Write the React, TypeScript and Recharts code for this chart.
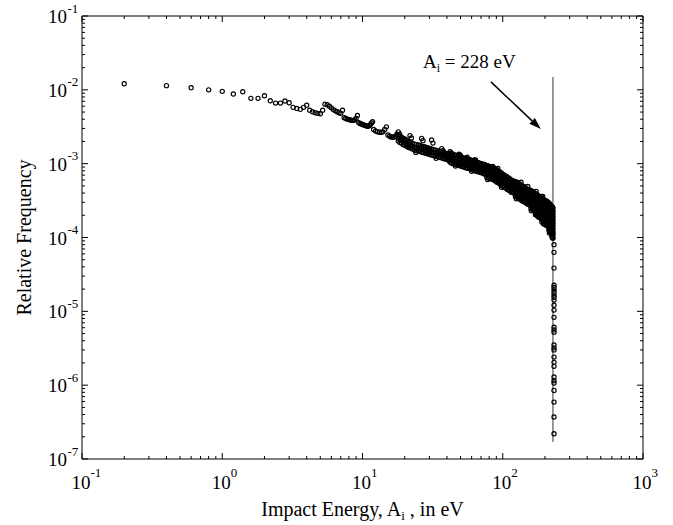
import React from 'react';
import { ScatterChart, Scatter, XAxis, YAxis, ReferenceLine, Label } from 'recharts';

// impact energy (eV) and relative frequency of the resolved low-energy points
const lowEnergy: [number, number][] = [
  [0.2, 1.21e-2], [0.4, 1.14e-2], [0.6, 1.07e-2], [0.8, 1.0e-2], [1.0, 9.55e-3],
  [1.2, 8.77e-3], [1.4, 9.42e-3], [1.6, 7.67e-3], [1.8, 7.67e-3], [2.0, 8.32e-3],
  [2.2, 7.11e-3], [2.4, 6.62e-3], [2.6, 6.62e-3], [2.8, 7.05e-3], [3.0, 6.69e-3],
  [3.2, 5.79e-3], [3.4, 5.6e-3], [3.6, 5.44e-3], [3.8, 5.8e-3], [4.0, 6.2e-3],
  [4.2, 5.3e-3], [4.4, 5.05e-3], [4.6, 4.9e-3], [4.8, 4.8e-3], [5.0, 4.75e-3],
  [5.2, 5.3e-3], [5.4, 6.4e-3], [5.6, 6.3e-3], [5.8, 6.0e-3], [6.0, 5.7e-3],
  [6.2, 5.4e-3], [6.4, 5.2e-3], [6.6, 5.05e-3], [6.8, 4.9e-3], [7.0, 4.8e-3],
  [7.2, 5.3e-3], [7.4, 4.2e-3], [7.6, 4.1e-3], [7.8, 4.0e-3], [8.0, 3.95e-3],
  [8.2, 3.9e-3], [8.4, 3.85e-3], [8.6, 3.85e-3], [8.8, 3.9e-3], [9.0, 4.1e-3],
  [9.2, 4.5e-3], [9.4, 3.6e-3], [9.6, 3.5e-3], [9.8, 3.45e-3], [10.0, 3.4e-3],
  [10.2, 3.35e-3], [10.4, 3.3e-3], [10.6, 3.25e-3], [10.8, 3.2e-3], [11.0, 3.2e-3],
  [11.2, 3.3e-3], [11.4, 3.4e-3], [11.6, 3.55e-3], [11.8, 3.7e-3], [12.0, 2.9e-3],
  [12.4, 2.78e-3], [12.8, 2.7e-3], [13.2, 2.66e-3], [13.6, 2.66e-3], [14.0, 2.7e-3],
  [14.4, 2.9e-3], [14.8, 3.15e-3], [15.2, 2.45e-3], [15.6, 2.35e-3], [16.0, 2.3e-3],
  [16.4, 2.28e-3], [16.8, 2.3e-3], [17.2, 2.35e-3], [17.6, 2.5e-3],
];

// dense part: each energy with the spread of frequencies stacked there
const bandColumns: [number, number[]][] = [
  [18, [2.44e-3, 2.22e-3, 2.02e-3]],
  [18.5, [2.33e-3, 2.12e-3, 1.93e-3]],
  [19, [2.29e-3, 2.09e-3, 1.9e-3]],
  [19.5, [2.19e-3, 1.99e-3, 1.81e-3]],
  [20, [2.16e-3, 1.96e-3, 1.79e-3]],
  [20.5, [2.09e-3, 1.9e-3, 1.73e-3]],
  [21, [2.02e-3, 1.84e-3, 1.68e-3]],
  [21.5, [1.99e-3, 1.81e-3, 1.65e-3]],
  [22, [1.96e-3, 1.79e-3, 1.63e-3]],
  [22.7, [1.9e-3, 1.73e-3, 1.58e-3]],
  [23.5, [1.84e-3, 1.68e-3, 1.53e-3]],
  [24.2, [1.81e-3, 1.65e-3, 1.5e-3]],
  [25, [1.79e-3, 1.63e-3, 1.48e-3]],
  [25.7, [1.76e-3, 1.6e-3, 1.46e-3]],
  [26.5, [1.73e-3, 1.58e-3, 1.44e-3]],
  [27.2, [1.7e-3, 1.55e-3, 1.41e-3]],
  [28, [1.68e-3, 1.53e-3, 1.39e-3]],
  [28.7, [1.65e-3, 1.5e-3, 1.37e-3]],
  [29.5, [1.63e-3, 1.48e-3, 1.35e-3]],
  [30.2, [1.6e-3, 1.46e-3, 1.33e-3]],
  [31, [1.58e-3, 1.44e-3, 1.31e-3]],
  [32, [1.55e-3, 1.41e-3, 1.29e-3]],
  [33, [1.53e-3, 1.39e-3, 1.27e-3]],
  [34, [1.5e-3, 1.37e-3, 1.25e-3]],
  [35, [1.48e-3, 1.35e-3, 1.23e-3]],
  [36, [1.46e-3, 1.33e-3, 1.21e-3]],
  [37, [1.44e-3, 1.31e-3, 1.19e-3]],
  [38, [1.41e-3, 1.29e-3, 1.17e-3]],
  [39, [1.39e-3, 1.27e-3, 1.16e-3]],
  [40, [1.37e-3, 1.25e-3, 1.14e-3]],
  [41, [1.35e-3, 1.23e-3, 1.12e-3]],
  [42, [1.35e-3, 1.23e-3, 1.12e-3, 1.05e-3]],
  [43, [1.35e-3, 1.23e-3, 1.12e-3, 1.02e-3]],
  [44.2, [1.33e-3, 1.21e-3, 1.1e-3, 1.0e-3]],
  [45.5, [1.31e-3, 1.19e-3, 1.09e-3, 9.9e-4]],
  [46.7, [1.29e-3, 1.17e-3, 1.07e-3, 9.7e-4]],
  [48, [1.27e-3, 1.16e-3, 1.05e-3, 9.6e-4]],
  [49.2, [1.25e-3, 1.14e-3, 1.03e-3, 9.4e-4]],
  [50.5, [1.23e-3, 1.12e-3, 1.02e-3, 9.3e-4]],
  [51.7, [1.21e-3, 1.1e-3, 1.0e-3, 9.1e-4]],
  [53, [1.19e-3, 1.09e-3, 9.9e-4, 9.0e-4]],
  [54.5, [1.17e-3, 1.07e-3, 9.7e-4, 8.8e-4]],
  [56, [1.16e-3, 1.05e-3, 9.6e-4, 8.7e-4]],
  [57.5, [1.14e-3, 1.03e-3, 9.4e-4, 8.6e-4]],
  [59, [1.12e-3, 1.02e-3, 9.3e-4, 8.5e-4]],
  [60.5, [1.1e-3, 1.0e-3, 9.1e-4, 8.3e-4]],
  [62, [1.09e-3, 9.9e-4, 9.0e-4, 8.2e-4]],
  [63.5, [1.07e-3, 9.7e-4, 8.8e-4, 8.0e-4]],
  [65, [1.05e-3, 9.6e-4, 8.7e-4, 7.9e-4]],
  [66.5, [1.03e-3, 9.4e-4, 8.6e-4, 7.8e-4]],
  [68, [1.02e-3, 9.3e-4, 8.5e-4, 7.7e-4]],
  [69.7, [1.0e-3, 9.1e-4, 8.3e-4, 7.6e-4]],
  [71.5, [9.9e-4, 9.0e-4, 8.2e-4, 7.5e-4]],
  [73.2, [9.7e-4, 8.8e-4, 8.0e-4, 7.3e-4]],
  [75, [9.6e-4, 8.7e-4, 7.9e-4, 7.2e-4]],
  [77, [9.4e-4, 8.6e-4, 7.8e-4, 7.1e-4, 6.5e-4]],
  [79, [9.3e-4, 8.5e-4, 7.7e-4, 7.0e-4, 6.4e-4]],
  [81, [9.1e-4, 8.3e-4, 7.6e-4, 6.9e-4, 6.3e-4]],
  [83, [9.0e-4, 8.2e-4, 7.5e-4, 6.8e-4, 6.2e-4]],
  [85, [8.8e-4, 8.0e-4, 7.3e-4, 6.7e-4, 6.1e-4]],
  [87, [8.7e-4, 7.9e-4, 7.2e-4, 6.6e-4, 6.0e-4]],
  [89, [8.45e-4, 7.7e-4, 7.0e-4, 6.4e-4, 5.8e-4]],
  [91, [8.2e-4, 7.5e-4, 6.8e-4, 6.2e-4, 5.6e-4]],
  [93.2, [7.9e-4, 7.2e-4, 6.6e-4, 6.0e-4, 5.5e-4]],
  [95.5, [7.7e-4, 7.0e-4, 6.4e-4, 5.8e-4, 5.3e-4]],
  [97.7, [7.5e-4, 6.8e-4, 6.2e-4, 5.6e-4, 5.1e-4]],
  [100, [7.2e-4, 6.6e-4, 6.0e-4, 5.5e-4, 5.0e-4]],
  [102.5, [7.0e-4, 6.4e-4, 5.8e-4, 5.3e-4, 4.8e-4]],
  [105, [6.8e-4, 6.2e-4, 5.6e-4, 5.1e-4, 4.7e-4]],
  [107.5, [6.6e-4, 6.0e-4, 5.5e-4, 5.0e-4, 4.5e-4]],
  [110, [6.4e-4, 5.8e-4, 5.3e-4, 4.8e-4, 4.4e-4]],
  [112.5, [6.2e-4, 5.6e-4, 5.1e-4, 4.7e-4, 4.25e-4]],
  [115, [6.0e-4, 5.5e-4, 5.0e-4, 4.5e-4, 4.1e-4]],
  [117.5, [5.9e-4, 5.4e-4, 4.9e-4, 4.5e-4, 4.1e-4]],
  [120, [5.8e-4, 5.3e-4, 4.8e-4, 4.4e-4, 4.0e-4]],
  [123, [5.7e-4, 5.2e-4, 4.75e-4, 4.3e-4, 3.93e-4, 3.58e-4]],
  [126, [5.6e-4, 5.1e-4, 4.7e-4, 4.25e-4, 3.87e-4, 3.53e-4]],
  [129, [5.46e-4, 4.97e-4, 4.53e-4, 4.12e-4, 3.76e-4, 3.42e-4]],
  [132, [5.3e-4, 4.8e-4, 4.4e-4, 4.0e-4, 3.64e-4, 3.32e-4]],
  [135, [5.13e-4, 4.67e-4, 4.25e-4, 3.87e-4, 3.53e-4, 3.21e-4]],
  [138, [5.0e-4, 4.5e-4, 4.1e-4, 3.76e-4, 3.42e-4, 3.12e-4]],
  [141, [4.9e-4, 4.46e-4, 4.06e-4, 3.7e-4, 3.37e-4, 3.07e-4]],
  [144, [4.8e-4, 4.4e-4, 4.0e-4, 3.64e-4, 3.32e-4, 3.02e-4]],
  [147, [4.67e-4, 4.25e-4, 3.87e-4, 3.53e-4, 3.21e-4, 2.93e-4]],
  [150, [4.5e-4, 4.1e-4, 3.76e-4, 3.42e-4, 3.12e-4, 2.84e-4]],
  [153, [4.46e-4, 4.06e-4, 3.7e-4, 3.37e-4, 3.07e-4, 2.8e-4]],
  [156, [4.4e-4, 4.0e-4, 3.64e-4, 3.32e-4, 3.02e-4, 2.75e-4]],
  [159, [4.3e-4, 3.93e-4, 3.58e-4, 3.26e-4, 2.97e-4, 2.71e-4, 2.46e-4]],
  [162, [4.25e-4, 3.87e-4, 3.53e-4, 3.21e-4, 2.93e-4, 2.67e-4, 2.43e-4]],
  [165, [4.12e-4, 3.76e-4, 3.42e-4, 3.12e-4, 2.84e-4, 2.58e-4, 2.35e-4]],
  [168, [4.0e-4, 3.64e-4, 3.32e-4, 3.02e-4, 2.75e-4, 2.5e-4, 2.28e-4]],
  [171, [3.93e-4, 3.58e-4, 3.26e-4, 2.97e-4, 2.71e-4, 2.46e-4, 2.24e-4, 2.04e-4]],
  [174, [3.87e-4, 3.53e-4, 3.21e-4, 2.93e-4, 2.67e-4, 2.43e-4, 2.21e-4, 2.01e-4]],
  [177, [3.76e-4, 3.42e-4, 3.12e-4, 2.84e-4, 2.58e-4, 2.35e-4, 2.14e-4, 1.95e-4]],
  [180, [3.64e-4, 3.32e-4, 3.02e-4, 2.75e-4, 2.5e-4, 2.28e-4, 2.08e-4, 1.89e-4]],
  [183, [3.58e-4, 3.26e-4, 2.97e-4, 2.71e-4, 2.46e-4, 2.24e-4, 2.04e-4, 1.86e-4]],
  [186, [3.53e-4, 3.21e-4, 2.93e-4, 2.67e-4, 2.43e-4, 2.21e-4, 2.01e-4, 1.83e-4]],
  [189, [3.42e-4, 3.12e-4, 2.84e-4, 2.58e-4, 2.35e-4, 2.14e-4, 1.95e-4, 1.78e-4]],
  [192, [3.32e-4, 3.02e-4, 2.75e-4, 2.5e-4, 2.28e-4, 2.08e-4, 1.89e-4, 1.72e-4]],
  [195, [3.26e-4, 2.97e-4, 2.71e-4, 2.46e-4, 2.24e-4, 2.04e-4, 1.86e-4, 1.69e-4, 1.54e-4]],
  [198, [3.21e-4, 2.93e-4, 2.67e-4, 2.43e-4, 2.21e-4, 2.01e-4, 1.83e-4, 1.67e-4, 1.52e-4]],
  [201, [3.17e-4, 2.88e-4, 2.62e-4, 2.39e-4, 2.18e-4, 1.98e-4, 1.8e-4, 1.64e-4, 1.5e-4]],
  [204, [3.12e-4, 2.84e-4, 2.58e-4, 2.35e-4, 2.14e-4, 1.95e-4, 1.78e-4, 1.62e-4, 1.47e-4]],
  [207, [3.07e-4, 2.8e-4, 2.54e-4, 2.32e-4, 2.11e-4, 1.92e-4, 1.75e-4, 1.59e-4, 1.45e-4]],
  [210, [3.02e-4, 2.75e-4, 2.5e-4, 2.28e-4, 2.08e-4, 1.89e-4, 1.72e-4, 1.57e-4, 1.43e-4]],
  [213, [2.93e-4, 2.67e-4, 2.43e-4, 2.21e-4, 2.01e-4, 1.83e-4, 1.67e-4, 1.52e-4, 1.38e-4, 1.26e-4]],
  [216, [2.84e-4, 2.58e-4, 2.35e-4, 2.14e-4, 1.95e-4, 1.78e-4, 1.62e-4, 1.47e-4, 1.34e-4, 1.22e-4]],
  [219, [2.75e-4, 2.5e-4, 2.28e-4, 2.08e-4, 1.89e-4, 1.72e-4, 1.57e-4, 1.43e-4, 1.3e-4, 1.18e-4]],
  [222, [2.67e-4, 2.43e-4, 2.21e-4, 2.01e-4, 1.83e-4, 1.67e-4, 1.52e-4, 1.38e-4, 1.26e-4, 1.15e-4]],
  [224, [2.62e-4, 2.39e-4, 2.18e-4, 1.98e-4, 1.8e-4, 1.64e-4, 1.5e-4, 1.36e-4, 1.24e-4, 1.13e-4, 1.02e-4]],
  [226, [2.58e-4, 2.35e-4, 2.14e-4, 1.95e-4, 1.78e-4, 1.62e-4, 1.47e-4, 1.34e-4, 1.22e-4, 1.11e-4, 1.01e-4]],
  [227, [2.54e-4, 2.32e-4, 2.11e-4, 1.92e-4, 1.75e-4, 1.59e-4, 1.45e-4, 1.32e-4, 1.2e-4, 1.09e-4, 9.9e-5]],
  [228, [2.5e-4, 2.28e-4, 2.08e-4, 1.89e-4, 1.72e-4, 1.57e-4, 1.43e-4, 1.3e-4, 1.18e-4, 1.08e-4, 9.8e-5]],
];

// isolated points sitting above the band (the "teeth")
const bandPeaks: [number, number][] = [
  [18.0, 2.7e-3], [21.8, 2.4e-3], [26.4, 2.2e-3], [31.1, 2.09e-3], [36.7, 1.6e-3],
  [42.1, 1.45e-3], [48.8, 1.34e-3], [54.7, 1.16e-3], [62.7, 1.12e-3], [72.6, 8.6e-4],
  [83.3, 8.2e-4], [90.5, 7.0e-4], [112.6, 5.7e-4], [132.8, 5.1e-4], [148.3, 3.95e-4],
  [170, 3.6e-4], [190, 3.6e-4], [205.7, 2.7e-4],
  [18.4, 2.5e-3], [22.3, 2.23e-3], [27, 2.05e-3], [31.8, 1.9e-3], [37.5, 1.5e-3],
  [43, 1.4e-3], [49.8, 1.3e-3], [55.8, 1.22e-3], [64, 1.12e-3], [74, 9.8e-4],
  [85, 9.2e-4], [92.3, 8.6e-4], [135, 5.6e-4], [151, 4.9e-4], [173, 4.2e-4], [193, 3.6e-4],
];

// scattered points just under the band
const bandLows: [number, number][] = [
  [24, 1.42e-3], [33.5, 1.18e-3], [46, 9.3e-4], [60, 7.9e-4], [78, 6.1e-4],
  [98, 4.8e-4], [125, 3.35e-4], [160, 2.3e-4], [190, 1.62e-4], [215, 1.15e-4],
];

// points falling down the cutoff
const cutoffEnergy = 232;
const cutoffFreq = [
  8.0e-5, 6.3e-5, 3.85e-5, 2.26e-5, 2.1e-5, 1.94e-5, 1.8e-5, 1.66e-5, 1.55e-5, 1.42e-5,
  1.21e-5, 1.04e-5, 8.3e-6, 6.1e-6, 5.6e-6, 5.2e-6, 3.5e-6, 3.2e-6, 3.0e-6, 2.4e-6,
  2.04e-6, 1.8e-6, 1.29e-6, 1.15e-6, 1.07e-6, 8.5e-7, 5.9e-7, 3.7e-7, 2.2e-7,
];

const cutoffLine = { energy: 228, top: 1.49e-2, bottom: 1.7e-7 };
const arrowFrom = { x: 82.4, y: 1.28e-2 };
const arrowTo = { x: 187, y: 2.94e-3 };

const xDecades = [0.1, 1, 10, 100, 1000];
const yDecades = [1e-7, 1e-6, 1e-5, 1e-4, 1e-3, 1e-2, 1e-1];
const minorSteps = [2, 3, 4, 5, 6, 7, 8, 9];

const withMinor = (decades: number[]) =>
  decades.flatMap((d, i) => (i < decades.length - 1 ? [d, ...minorSteps.map((m) => m * d)] : [d]));

const xTicks = withMinor(xDecades);
const yTicks = withMinor(yDecades);

const MAJOR = 6;
const MINOR = 3;
const FONT = '"Liberation Serif", "Times New Roman", serif';

const decadeExp = (v: number) => Math.round(Math.log10(v));
const isDecade = (v: number) => Math.abs(Math.log10(v) - decadeExp(v)) < 1e-6;

type TickProps = { x?: number; y?: number; payload?: { value: number } };

function BottomTick({ x = 0, y = 0, payload }: TickProps) {
  const v = payload?.value ?? 1;
  const major = isDecade(v);
  return (
    <g>
      <line x1={x} x2={x} y1={y} y2={y - (major ? MAJOR : MINOR)} stroke="#000" />
      {major && (
        <>
          <text x={x - 1} y={y + 30} textAnchor="middle" fontSize={19} fill="#000">10</text>
          <text x={x + 8.5} y={y + 18} fontSize={13} fill="#000">{decadeExp(v)}</text>
        </>
      )}
    </g>
  );
}

function TopTick({ x = 0, y = 0, payload }: TickProps) {
  const major = isDecade(payload?.value ?? 1);
  return <line x1={x} x2={x} y1={y} y2={y + (major ? MAJOR : MINOR)} stroke="#000" />;
}

function LeftTick({ x = 0, y = 0, payload }: TickProps) {
  const v = payload?.value ?? 1;
  const major = isDecade(v);
  return (
    <g>
      <line x1={x} x2={x + (major ? MAJOR : MINOR)} y1={y} y2={y} stroke="#000" />
      {major && (
        <>
          <text x={x - 15} y={y + 7} textAnchor="end" fontSize={19} fill="#000">10</text>
          <text x={x - 14.5} y={y - 3.5} fontSize={13} fill="#000">{decadeExp(v)}</text>
        </>
      )}
    </g>
  );
}

function RightTick({ x = 0, y = 0, payload }: TickProps) {
  const major = isDecade(payload?.value ?? 1);
  return <line x1={x} x2={x - (major ? MAJOR : MINOR)} y1={y} y2={y} stroke="#000" />;
}

function Arrow(props: any) {
  const { x1, y1, x2, y2 } = props;
  const ang = Math.atan2(y2 - y1, x2 - x1);
  const len = 12;
  const half = 4;
  const bx = x2 - len * Math.cos(ang);
  const by = y2 - len * Math.sin(ang);
  const px = -Math.sin(ang) * half;
  const py = Math.cos(ang) * half;
  return (
    <g>
      <line x1={x1} y1={y1} x2={bx} y2={by} stroke="#000" strokeWidth={1.5} />
      <polygon points={`${x2},${y2} ${bx + px},${by + py} ${bx - px},${by - py}`} fill="#000" />
      <text x={x1 - 68} y={y1 - 14} fontSize={19} fill="#000">
        A<tspan fontSize={12} dy={4}>i</tspan>
        <tspan dy={-4}> = 228 eV</tspan>
      </text>
    </g>
  );
}

const dot = (p: any) => (
  <circle cx={p.cx} cy={p.cy} r={2.1} fill="none" stroke="#000" strokeWidth={1.15} />
);

export default function App() {
  const points = [
    ...lowEnergy.map(([x, y]) => ({ x, y })),
    ...bandColumns.flatMap(([x, ys]) => ys.map((y) => ({ x, y }))),
    ...bandPeaks.map(([x, y]) => ({ x, y })),
    ...bandLows.map(([x, y]) => ({ x, y })),
    ...cutoffFreq.map((y) => ({ x: cutoffEnergy, y })),
  ];

  return (
    <div style={{ width: 673, height: 525, fontFamily: FONT, background: '#fff' }}>
      <style>{'body { margin: 0; }'}</style>
      <ScatterChart width={673} height={525} margin={{ top: 0, right: 0, bottom: 0, left: 0 }}>
        <XAxis
          xAxisId="b"
          dataKey="x"
          type="number"
          scale="log"
          domain={[0.1, 1000]}
          allowDataOverflow
          ticks={xTicks}
          interval={0}
          height={66}
          tickSize={0}
          tickMargin={0}
          tickLine={false}
          axisLine={{ stroke: '#000' }}
          tick={(p: any) => <BottomTick {...p} />}
        >
          <Label
            content={({ viewBox }: any) => (
              <text x={viewBox.x + viewBox.width / 2} y={viewBox.y + 57} textAnchor="middle" fontSize={20} fill="#000">
                Impact Energy, A<tspan fontSize={13} dy={4}>i</tspan>
                <tspan dy={-4}> , in eV</tspan>
              </text>
            )}
          />
        </XAxis>
        <XAxis
          xAxisId="t"
          orientation="top"
          dataKey="x"
          type="number"
          scale="log"
          domain={[0.1, 1000]}
          allowDataOverflow
          ticks={xTicks}
          interval={0}
          height={16}
          tickSize={0}
          tickMargin={0}
          tickLine={false}
          axisLine={{ stroke: '#000' }}
          tick={(p: any) => <TopTick {...p} />}
        />
        <YAxis
          yAxisId="l"
          dataKey="y"
          type="number"
          scale="log"
          domain={[1e-7, 1e-1]}
          allowDataOverflow
          ticks={yTicks}
          interval={0}
          width={82}
          tickSize={0}
          tickMargin={0}
          tickLine={false}
          axisLine={{ stroke: '#000' }}
          tick={(p: any) => <LeftTick {...p} />}
        >
          <Label
            content={({ viewBox }: any) => {
              const cx = 31;
              const cy = viewBox.y + viewBox.height / 2;
              return (
                <text x={cx} y={cy} transform={`rotate(-90, ${cx}, ${cy})`} textAnchor="middle" fontSize={20} fill="#000">
                  Relative Frequency
                </text>
              );
            }}
          />
        </YAxis>
        <YAxis
          yAxisId="r"
          orientation="right"
          dataKey="y"
          type="number"
          scale="log"
          domain={[1e-7, 1e-1]}
          allowDataOverflow
          ticks={yTicks}
          interval={0}
          width={30}
          tickSize={0}
          tickMargin={0}
          tickLine={false}
          axisLine={{ stroke: '#000' }}
          tick={(p: any) => <RightTick {...p} />}
        />
        <ReferenceLine
          xAxisId="b"
          yAxisId="l"
          segment={[
            { x: cutoffLine.energy, y: cutoffLine.top },
            { x: cutoffLine.energy, y: cutoffLine.bottom },
          ]}
          stroke="#000"
          strokeWidth={0.8}
        />
        <Scatter
          xAxisId="b"
          yAxisId="l"
          data={points}
          shape={dot}
          isAnimationActive={false}
        />
        <ReferenceLine
          xAxisId="b"
          yAxisId="l"
          segment={[arrowFrom, arrowTo]}
          shape={(p: any) => <Arrow {...p} />}
        />
      </ScatterChart>
    </div>
  );
}
